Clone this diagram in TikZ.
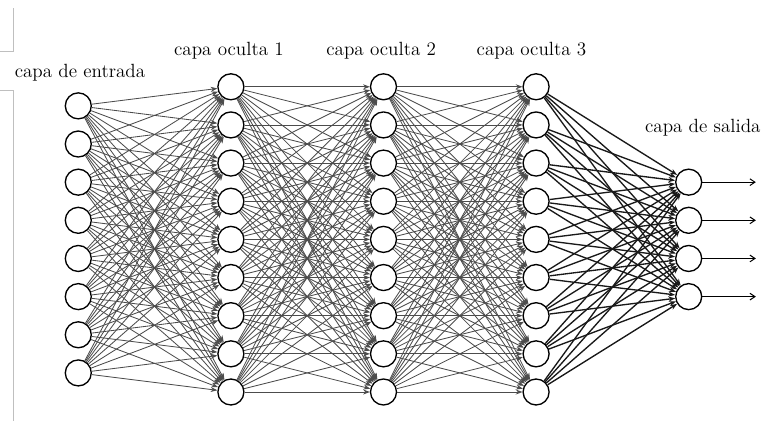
\documentclass[tikz,border=0pt]{standalone}
\usepackage{tikz}
\usetikzlibrary{arrows.meta}

\begin{document}
\begin{tikzpicture}[>=Stealth, x=0.8cm, y=0.8cm,
  neuron/.style={circle,draw,line width=0.8pt,minimum size=0.545cm,inner sep=0pt,fill=white},
  weight/.style={-{Stealth[length=4pt,width=3pt]},line width=0.5pt,draw=black!70},
  outweight/.style={-{Stealth[length=4pt,width=3pt]},line width=0.8pt,draw=black!90},
  layername/.style={font=\fontsize{11.4}{13}\selectfont}]
  \useasboundingbox (-2.052,-4.760) rectangle (18.0,6.275);
  % page edges on the left
  \draw[black!25,line width=0.5pt] (-2.052,4.938) -- (-1.704,4.938) -- (-1.704,6.058);
  \draw[black!25,line width=0.5pt] (-2.052,3.898) -- (-1.704,3.898) -- (-1.704,-4.760);
  % input layer
  \foreach \i in {1,...,8}
    \node[neuron] (i\i) at (0,4.5-\i) {};
  % hidden layers
  \foreach \lay/\xpos in {a/4,b/8,c/12}
    \foreach \i in {1,...,9}
      \node[neuron] (\lay\i) at (\xpos,5-\i) {};
  % output layer
  \foreach \i in {1,...,4}
    \node[neuron] (o\i) at (16,2.5-\i) {};
  % layer names
  \node[layername] (lin) at (0.045,4.36) {capa de entrada};
  \node[layername] (la) at (3.95,4.94) {capa oculta 1};
  \node[layername] (lb) at (7.94,4.94) {capa oculta 2};
  \node[layername] (lc) at (11.88,4.94) {capa oculta 3};
  \node[layername] (lout) at (16.37,2.92) {capa de salida};
  % links
  \foreach \i in {1,...,8}
    \foreach \j in {1,...,9}
      \draw[weight] (i\i) -- (a\j);
  \foreach \s/\t in {a/b,b/c}
    \foreach \i in {1,...,9}
      \foreach \j in {1,...,9}
        \draw[weight] (\s\i) -- (\t\j);
  \foreach \i in {1,...,9}
    \foreach \j in {1,...,4}
      \draw[outweight] (c\i) -- (o\j);
  % outputs
  \foreach \i in {1,...,4} {
    \coordinate (y\i) at (17.76,2.5-\i);
    \draw[-{Straight Barb[length=3pt,width=4pt]},line width=0.6pt] (o\i) -- (y\i);
  }
\end{tikzpicture}
\end{document}
